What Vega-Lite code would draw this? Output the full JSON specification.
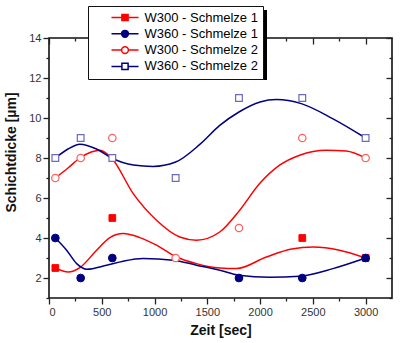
{
  "$schema": "https://vega.github.io/schema/vega-lite/v6.json",
  "width": 343,
  "height": 260,
  "autosize": {"type": "none"},
  "padding": {"left": 49, "top": 38, "right": 8, "bottom": 45},
  "background": "white",
  "config": {
    "view": {"stroke": "#111", "strokeWidth": 1.6},
    "font": "Liberation Sans",
    "axis": {"grid": false, "domain": false, "tickColor": "#222", "tickWidth": 1.3, "labelColor": "#333", "labelFont": "Liberation Sans", "labelFontSize": 11, "titleFont": "Liberation Sans", "titleFontSize": 14, "titleFontWeight": "bold", "titleColor": "#111"}
  },
  "data": {
    "values": [
      {"s": "W300 - Schmelze 1", "k": "p", "x": 60, "y": 2.5},
      {"s": "W300 - Schmelze 1", "k": "p", "x": 600, "y": 5},
      {"s": "W300 - Schmelze 1", "k": "p", "x": 2400, "y": 4},
      {"s": "W300 - Schmelze 1", "k": "p", "x": 3000, "y": 3},
      {"s": "W360 - Schmelze 1", "k": "p", "x": 60, "y": 4},
      {"s": "W360 - Schmelze 1", "k": "p", "x": 300, "y": 2},
      {"s": "W360 - Schmelze 1", "k": "p", "x": 600, "y": 3},
      {"s": "W360 - Schmelze 1", "k": "p", "x": 1800, "y": 2},
      {"s": "W360 - Schmelze 1", "k": "p", "x": 2400, "y": 2},
      {"s": "W360 - Schmelze 1", "k": "p", "x": 3000, "y": 3},
      {"s": "W300 - Schmelze 2", "k": "p", "x": 60, "y": 7},
      {"s": "W300 - Schmelze 2", "k": "p", "x": 300, "y": 8},
      {"s": "W300 - Schmelze 2", "k": "p", "x": 600, "y": 9},
      {"s": "W300 - Schmelze 2", "k": "p", "x": 1200, "y": 3},
      {"s": "W300 - Schmelze 2", "k": "p", "x": 1800, "y": 4.5},
      {"s": "W300 - Schmelze 2", "k": "p", "x": 2400, "y": 9},
      {"s": "W300 - Schmelze 2", "k": "p", "x": 3000, "y": 8},
      {"s": "W360 - Schmelze 2", "k": "p", "x": 60, "y": 8},
      {"s": "W360 - Schmelze 2", "k": "p", "x": 300, "y": 9},
      {"s": "W360 - Schmelze 2", "k": "p", "x": 600, "y": 8},
      {"s": "W360 - Schmelze 2", "k": "p", "x": 1200, "y": 7},
      {"s": "W360 - Schmelze 2", "k": "p", "x": 1800, "y": 11},
      {"s": "W360 - Schmelze 2", "k": "p", "x": 2400, "y": 11},
      {"s": "W360 - Schmelze 2", "k": "p", "x": 3000, "y": 9},

      {"s": "W300 - Schmelze 1", "k": "c", "x": 60, "y": 2.5},
      {"s": "W300 - Schmelze 1", "k": "c", "x": 183, "y": 2.3},
      {"s": "W300 - Schmelze 1", "k": "c", "x": 293, "y": 2.52},
      {"s": "W300 - Schmelze 1", "k": "c", "x": 451, "y": 3.39},
      {"s": "W300 - Schmelze 1", "k": "c", "x": 577, "y": 4.02},
      {"s": "W300 - Schmelze 1", "k": "c", "x": 703, "y": 4.22},
      {"s": "W300 - Schmelze 1", "k": "c", "x": 861, "y": 4.02},
      {"s": "W300 - Schmelze 1", "k": "c", "x": 1019, "y": 3.64},
      {"s": "W300 - Schmelze 1", "k": "c", "x": 1208, "y": 3.05},
      {"s": "W300 - Schmelze 1", "k": "c", "x": 1397, "y": 2.72},
      {"s": "W300 - Schmelze 1", "k": "c", "x": 1618, "y": 2.5},
      {"s": "W300 - Schmelze 1", "k": "c", "x": 1776, "y": 2.47},
      {"s": "W300 - Schmelze 1", "k": "c", "x": 2060, "y": 3.05},
      {"s": "W300 - Schmelze 1", "k": "c", "x": 2300, "y": 3.45},
      {"s": "W300 - Schmelze 1", "k": "c", "x": 2502, "y": 3.55},
      {"s": "W300 - Schmelze 1", "k": "c", "x": 2753, "y": 3.39},
      {"s": "W300 - Schmelze 1", "k": "c", "x": 3000, "y": 3.0},

      {"s": "W360 - Schmelze 1", "k": "c", "x": 60, "y": 4},
      {"s": "W360 - Schmelze 1", "k": "c", "x": 167, "y": 3.39},
      {"s": "W360 - Schmelze 1", "k": "c", "x": 262, "y": 2.72},
      {"s": "W360 - Schmelze 1", "k": "c", "x": 357, "y": 2.44},
      {"s": "W360 - Schmelze 1", "k": "c", "x": 546, "y": 2.64},
      {"s": "W360 - Schmelze 1", "k": "c", "x": 703, "y": 2.84},
      {"s": "W360 - Schmelze 1", "k": "c", "x": 892, "y": 2.97},
      {"s": "W360 - Schmelze 1", "k": "c", "x": 1176, "y": 2.89},
      {"s": "W360 - Schmelze 1", "k": "c", "x": 1397, "y": 2.64},
      {"s": "W360 - Schmelze 1", "k": "c", "x": 1618, "y": 2.39},
      {"s": "W360 - Schmelze 1", "k": "c", "x": 1798, "y": 2.14},
      {"s": "W360 - Schmelze 1", "k": "c", "x": 2091, "y": 2.04},
      {"s": "W360 - Schmelze 1", "k": "c", "x": 2375, "y": 2.09},
      {"s": "W360 - Schmelze 1", "k": "c", "x": 2690, "y": 2.47},
      {"s": "W360 - Schmelze 1", "k": "c", "x": 3000, "y": 3.0},

      {"s": "W300 - Schmelze 2", "k": "c", "x": 60, "y": 7},
      {"s": "W300 - Schmelze 2", "k": "c", "x": 180, "y": 7.5},
      {"s": "W300 - Schmelze 2", "k": "c", "x": 293, "y": 8},
      {"s": "W300 - Schmelze 2", "k": "c", "x": 400, "y": 8.3},
      {"s": "W300 - Schmelze 2", "k": "c", "x": 482, "y": 8.39},
      {"s": "W300 - Schmelze 2", "k": "c", "x": 593, "y": 8.0},
      {"s": "W300 - Schmelze 2", "k": "c", "x": 798, "y": 6.22},
      {"s": "W300 - Schmelze 2", "k": "c", "x": 1019, "y": 4.89},
      {"s": "W300 - Schmelze 2", "k": "c", "x": 1239, "y": 4.05},
      {"s": "W300 - Schmelze 2", "k": "c", "x": 1397, "y": 3.89},
      {"s": "W300 - Schmelze 2", "k": "c", "x": 1618, "y": 4.3},
      {"s": "W300 - Schmelze 2", "k": "c", "x": 1807, "y": 5.39},
      {"s": "W300 - Schmelze 2", "k": "c", "x": 1996, "y": 6.72},
      {"s": "W300 - Schmelze 2", "k": "c", "x": 2185, "y": 7.64},
      {"s": "W300 - Schmelze 2", "k": "c", "x": 2375, "y": 8.14},
      {"s": "W300 - Schmelze 2", "k": "c", "x": 2627, "y": 8.39},
      {"s": "W300 - Schmelze 2", "k": "c", "x": 2816, "y": 8.35},
      {"s": "W300 - Schmelze 2", "k": "c", "x": 3000, "y": 8.0},

      {"s": "W360 - Schmelze 2", "k": "c", "x": 60, "y": 8},
      {"s": "W360 - Schmelze 2", "k": "c", "x": 180, "y": 8.45},
      {"s": "W360 - Schmelze 2", "k": "c", "x": 293, "y": 8.69},
      {"s": "W360 - Schmelze 2", "k": "c", "x": 450, "y": 8.45},
      {"s": "W360 - Schmelze 2", "k": "c", "x": 593, "y": 8.0},
      {"s": "W360 - Schmelze 2", "k": "c", "x": 800, "y": 7.65},
      {"s": "W360 - Schmelze 2", "k": "c", "x": 984, "y": 7.58},
      {"s": "W360 - Schmelze 2", "k": "c", "x": 1200, "y": 7.8},
      {"s": "W360 - Schmelze 2", "k": "c", "x": 1429, "y": 8.68},
      {"s": "W360 - Schmelze 2", "k": "c", "x": 1618, "y": 9.63},
      {"s": "W360 - Schmelze 2", "k": "c", "x": 1800, "y": 10.3},
      {"s": "W360 - Schmelze 2", "k": "c", "x": 2000, "y": 10.8},
      {"s": "W360 - Schmelze 2", "k": "c", "x": 2154, "y": 10.92},
      {"s": "W360 - Schmelze 2", "k": "c", "x": 2390, "y": 10.72},
      {"s": "W360 - Schmelze 2", "k": "c", "x": 2687, "y": 9.97},
      {"s": "W360 - Schmelze 2", "k": "c", "x": 3000, "y": 9.0}
    ]
  },
  "layer": [
    {
      "transform": [{"filter": "datum.k === 'p'"}],
      "mark": {"type": "point", "filled": true, "size": 0, "strokeWidth": 0, "opacity": 0},
      "encoding": {
        "x": {"field": "x", "type": "quantitative", "scale": {"domain": [0, 3250], "nice": false, "zero": false},
          "axis": {"orient": "bottom", "title": "Zeit [sec]", "values": [0,250,500,750,1000,1250,1500,1750,2000,2250,2500,2750,3000], "format": "d",
            "labelExpr": "datum.value % 500 === 0 ? datum.label : ''",
            "tickSize": {"condition": {"test": "datum.value % 500 === 0", "value": 6}, "value": 3},
            "labelPadding": 2, "titlePadding": 6}},
        "y": {"field": "y", "type": "quantitative", "scale": {"domain": [1, 14], "nice": false, "zero": false},
          "axis": {"orient": "left", "title": "Schichtdicke [µm]", "values": [1,2,3,4,5,6,7,8,9,10,11,12,13,14],
            "labelExpr": "datum.value % 2 === 0 ? datum.label : ''",
            "tickSize": {"condition": {"test": "datum.value % 2 === 0", "value": 6}, "value": 3},
            "labelPadding": 2, "titlePadding": 10, "titleY": 114}},
        "color": {"field": "y", "type": "quantitative", "scale": {"range": ["#000000", "#000000"]},
          "legend": {"title": null, "orient": "none", "legendX": 43, "legendY": -28, "direction": "horizontal",
            "gradientLength": 175, "gradientThickness": 70, "gradientStrokeWidth": 0, "padding": 0,
            "labelOpacity": 0, "labelFontSize": 1, "tickCount": 2,
            "encode": {"gradient": {"update": {"opacity": {"value": 1}, "fill": {"value": "#000000"}}}}}}
      }
    },
    {
      "transform": [{"filter": "datum.k === 'c'"}],
      "mark": {"type": "line", "interpolate": "monotone", "strokeWidth": 1.5},
      "encoding": {
        "x": {"field": "x", "type": "quantitative", "axis": null},
        "y": {"field": "y", "type": "quantitative", "axis": null},
        "stroke": {"field": "s", "type": "nominal",
          "scale": {"domain": ["W300 - Schmelze 1", "W360 - Schmelze 1", "W300 - Schmelze 2", "W360 - Schmelze 2"], "range": ["#ff0000", "#000080", "#ff0000", "#000080"]},
          "legend": {
            "title": null, "orient": "none", "legendX": 39, "legendY": -32,
            "fillColor": "white", "strokeColor": "#111", "padding": 5,
            "labelFont": "Liberation Sans", "labelFontSize": 13, "labelColor": "#000",
            "symbolSize": 100, "symbolOffset": 25.5, "symbolStrokeWidth": 1.5, "rowPadding": 2.3, "labelOffset": 13,
            "encode": {
              "symbols": {
                "update": {
                  "shape": {"signal": "(datum.value === 'W300 - Schmelze 1' || datum.value === 'W360 - Schmelze 2') ? 'M-2.7,0H-0.65M0.65,0H2.7M-0.62,-0.62H0.62V0.62H-0.62Z' : 'M-2.7,0H-0.7M0.7,0H2.7M0.68,0A0.68,0.68 0 1,1 -0.68,0A0.68,0.68 0 1,1 0.68,0Z'"},
                  "fill": {"signal": "datum.value === 'W300 - Schmelze 1' ? '#ff0000' : datum.value === 'W360 - Schmelze 1' ? '#000080' : '#ffffff'"},
                  "stroke": {"signal": "indexOf(datum.value, 'W300') === 0 ? '#ff0000' : '#000080'"},
                  "strokeWidth": {"value": 1.5},
                  "opacity": {"value": 1}
                }
              }
            }
          }}
      }
    },
    {
      "transform": [{"filter": "datum.k === 'p' && datum.s === 'W300 - Schmelze 2'"}],
      "mark": {"type": "point", "shape": "circle", "filled": false, "fill": "white", "stroke": "#ff6060", "strokeWidth": 1.2, "size": 55, "opacity": 1},
      "encoding": {
        "x": {"field": "x", "type": "quantitative",
          "axis": {"orient": "top", "title": null, "labels": false, "values": [0,250,500,750,1000,1250,1500,1750,2000,2250,2500,2750,3000],
            "tickSize": {"condition": {"test": "datum.value % 500 === 0", "value": -6}, "value": -3}}},
        "y": {"field": "y", "type": "quantitative",
          "axis": {"orient": "right", "title": null, "labels": false, "values": [1,2,3,4,5,6,7,8,9,10,11,12,13,14],
            "tickSize": {"condition": {"test": "datum.value % 2 === 0", "value": -6}, "value": -3}}}
      }
    },
    {
      "transform": [{"filter": "datum.k === 'p' && datum.s === 'W360 - Schmelze 2'"}],
      "mark": {"type": "point", "shape": "square", "filled": false, "fill": "white", "stroke": "#6a6ac0", "strokeWidth": 1.2, "size": 45, "opacity": 1},
      "encoding": {
        "x": {"field": "x", "type": "quantitative", "axis": null},
        "y": {"field": "y", "type": "quantitative", "axis": null}
      }
    },
    {
      "transform": [{"filter": "datum.k === 'p' && datum.s === 'W300 - Schmelze 1'"}],
      "mark": {"type": "point", "shape": "square", "filled": true, "fill": "#ff0000", "stroke": "#ff0000", "strokeWidth": 1, "size": 45, "opacity": 1},
      "encoding": {
        "x": {"field": "x", "type": "quantitative", "axis": null},
        "y": {"field": "y", "type": "quantitative", "axis": null}
      }
    },
    {
      "transform": [{"filter": "datum.k === 'p' && datum.s === 'W360 - Schmelze 1'"}],
      "mark": {"type": "point", "shape": "circle", "filled": true, "fill": "#000080", "stroke": "#000080", "strokeWidth": 1, "size": 60, "opacity": 1},
      "encoding": {
        "x": {"field": "x", "type": "quantitative", "axis": null},
        "y": {"field": "y", "type": "quantitative", "axis": null}
      }
    }
  ]
}
